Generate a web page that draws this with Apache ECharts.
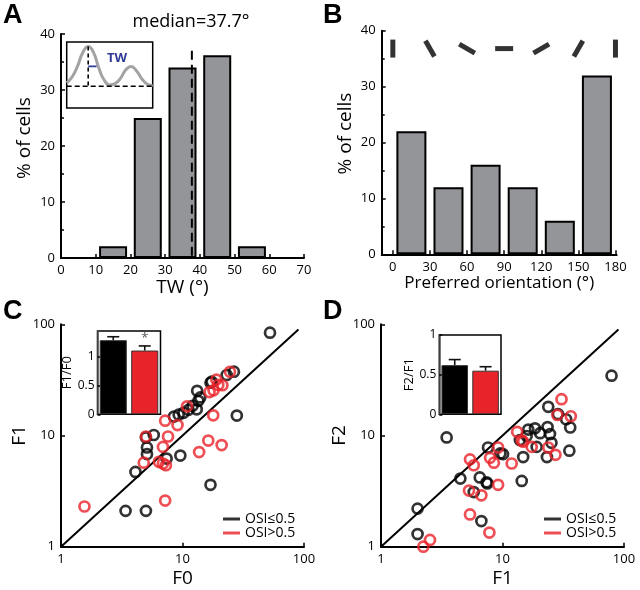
<!DOCTYPE html>
<html><head><meta charset="utf-8">
<script src="https://cdn.jsdelivr.net/npm/echarts@6/dist/echarts.min.js"></script>
<style>html,body{margin:0;padding:0;background:#fff}#c{width:640px;height:590px}</style>
</head><body><div id="c"></div>
<script>
// ---------- Panel A : tuning width histogram ----------
const twBins = [15, 25, 35, 45, 55];
const twPct = [2.1, 25, 34, 36.2, 2.1];
const twMedian = 37.7;
const twMedianLine = [37, 0];
// inset schematic tuning curve
const tuneDir = [0, 22.5, 45, 67.5, 90, 112.5, 135, 157.5, 180, 202.5, 225, 247.5, 270, 292.5, 315, 337.5, 360];
const tuneResp = [0.38, 0.47, 0.63, 0.84, 0.93, 0.84, 0.60, 0.42, 0.35, 0.37, 0.45, 0.58, 0.63, 0.56, 0.44, 0.36, 0.34];
const tuneBaseline = 0.33;
const tunePeakDir = 90;
const tunePeak = 0.93;
const tuneHalfDirs = [90, 125];
const tuneHalf = 0.63;

// ---------- Panel B : preferred orientation ----------
const oriBins = [15, 45, 75, 105, 135, 165];
const oriPct = [22, 12, 16, 12, 6, 32];
const oriTicks = [0, 30, 60, 90, 120, 150, 180];
const oriGlyphY = 36.8;

// ---------- Panel C : F1 vs F0 ----------
const cBlack = [[52.5,84],[28,15.1],[17,3.6],[3.4,2.1],[5.0,2.1],[4.1,4.7],[5.1,7.8],[5.1,6.8],[5.8,10.1],[5.0,9.6],[7.4,6.2],[9.6,6.6],[8.5,14.8],[9.3,15.4],[10.2,16.0],[13.1,17.2],[13.2,25.2],[13.5,20.5],[17.0,29.8],[23.1,35.0],[26.5,37.5],[11.2,17.0],[14.0,22.0],[12.1,18.5],[17.4,30.5]];
const cRed = [[1.56,2.3],[7.2,2.6],[4.8,5.7],[5.0,9.8],[6.9,7.9],[7.6,9.8],[7.2,13.6],[9.1,12.4],[6.4,5.8],[6.9,5.6],[7.3,5.4],[10.9,18.3],[17.9,15.2],[16.3,9.0],[21.0,8.2],[13.7,7.1],[16.7,24.6],[19.0,31.8],[19.7,28.5],[21.3,28.3],[24.6,37.4],[18.0,25.5]];
const cInsetCats = ['OSI≤0.5', 'OSI>0.5'];
const cInsetMean = [1.29, 1.11];
const cInsetErr = [0.06, 0.08];
const cInsetSig = [0, 1];
const cInsetTicks = [0, 0.5, 1];

// ---------- Panel D : F2 vs F1 ----------
const dBlack = [[79,34.5],[3.47,9.6],[2.0,2.2],[2.0,1.3],[4.5,4.1],[5.8,3.1],[6.5,4.2],[7.5,3.7],[6.7,1.7],[7.6,7.8],[9.6,6.9],[10.1,6.8],[14.4,3.9],[14.8,6.4],[13.9,9.1],[15.8,9.9],[16.3,11.3],[18.5,11.6],[20.4,10.5],[19.1,7.9],[23.5,11.9],[24.6,10.3],[25.3,8.6],[23.8,18.1],[23.2,6.4],[28.6,15.6],[33.4,14.0],[36.1,11.8],[35.5,7.3],[7.4,3.8]];
const dRed = [[2.23,1.0],[2.53,1.15],[5.4,1.95],[7.8,1.34],[5.3,3.2],[6.7,2.9],[9.2,3.6],[5.4,6.1],[5.8,5.4],[7.9,6.3],[8.5,5.7],[9.2,7.8],[11.9,5.6],[13.2,10.8],[14.4,9.0],[14.8,8.8],[17.4,7.9],[23.8,7.8],[27.3,6.7],[30.6,21.2],[28.3,15.3],[36.5,14.9]];
const dInsetCats = ['OSI≤0.5', 'OSI>0.5'];
const dInsetMean = [0.62, 0.55];
const dInsetErr = [0.07, 0.05];
const dInsetSig = [0, 0];
const dInsetTicks = [0, 0.5, 1];

const legendNames = ['OSI≤0.5', 'OSI>0.5'];
const diagLine = [[1, 1], [90, 90]];

// ---------- styling ----------
const FONT = 'Open Sans';
const RED = '#e8232a';
const GRAY = '#939598';
const BLACK = '#000';

function axis(extra) {
  const base = {
    axisLine: {show: true, onZero: false, lineStyle: {color: BLACK, width: 2}},
    axisTick: {show: true, inside: true, length: 4, lineStyle: {color: BLACK, width: 1.5}},
    axisLabel: {color: BLACK, fontSize: 13, fontFamily: FONT, margin: 6},
    splitLine: {show: false},
    nameLocation: 'middle',
    nameTextStyle: {color: BLACK, fontSize: 19, fontFamily: FONT}
  };
  const out = Object.assign({}, base, extra);
  ['axisLine', 'axisTick', 'axisLabel', 'nameTextStyle'].forEach(k => {
    if (extra[k]) out[k] = Object.assign({}, base[k], extra[k]);
  });
  return out;
}
const minor = {show: true, splitNumber: 2, length: 3, lineStyle: {color: BLACK, width: 1.5}};

function scatterSeries(name, xi, yi, data, color) {
  return {
    name, type: 'scatter', xAxisIndex: xi, yAxisIndex: yi, data,
    symbol: 'circle', symbolSize: 10,
    itemStyle: {color: 'rgba(0,0,0,0)', borderColor: color, borderWidth: 2.7},
    z: 3
  };
}
function errSeries(xi, yi, means, errs, sig) {
  return {
    type: 'custom', xAxisIndex: xi, yAxisIndex: yi, z: 5,
    data: means.map((m, i) => [i, m, errs[i], sig[i]]),
    encode: {x: 0, y: 1},
    renderItem(params, api) {
      const i = api.value(0), m = api.value(1), e = api.value(2), s = api.value(3);
      const p0 = api.coord([i, m]), p1 = api.coord([i, m + e]);
      const st = {stroke: '#111', lineWidth: 1.6};
      const ch = [
        {type: 'line', shape: {x1: p0[0], y1: p0[1], x2: p1[0], y2: p1[1]}, style: st},
        {type: 'line', shape: {x1: p1[0] - 6, y1: p1[1], x2: p1[0] + 6, y2: p1[1]}, style: st}
      ];
      if (s) ch.push({type: 'text', style: {text: '*', x: p1[0], y: p1[1] - 1, align: 'center', verticalAlign: 'bottom', fontSize: 13, fontFamily: FONT, fill: '#555'}});
      return {type: 'group', children: ch};
    }
  };
}
function insetBar(xi, yi, means) {
  return {
    type: 'bar', xAxisIndex: xi, yAxisIndex: yi, barWidth: '86%', z: 4,
    data: means.map((m, i) => ({value: m, itemStyle: {color: i === 0 ? BLACK : RED}})),
    itemStyle: {borderColor: '#333', borderWidth: 1}
  };
}

const option = {
  animation: false,
  backgroundColor: '#fff',
  textStyle: {fontFamily: FONT},
  grid: [
    {left: 61, top: 34, width: 243, height: 224},                 // 0 A
    {left: 381.7, top: 30.7, width: 235, height: 223.6},          // 1 B
    {left: 66.7, top: 42, width: 86, height: 66, show: true, borderColor: BLACK, borderWidth: 1.5, backgroundColor: '#fff', z: 1}, // 2 A inset
    {left: 61, top: 324.3, width: 243, height: 222.4},            // 3 C
    {left: 97.5, top: 331, width: 63, height: 83.3, show: true, borderColor: BLACK, borderWidth: 1.5, backgroundColor: '#fff'}, // 4 C inset
    {left: 381, top: 324.3, width: 243, height: 222.4},           // 5 D
    {left: 439.3, top: 335, width: 61.7, height: 79.3, show: true, borderColor: BLACK, borderWidth: 1.5, backgroundColor: '#fff'}  // 6 D inset
  ],
  xAxis: [
    axis({gridIndex: 0, type: 'value', min: 0, max: 70, interval: 10, name: 'TW (°)', nameGap: 11}),
    axis({gridIndex: 1, type: 'value', min: -9, max: 181, name: 'Preferred orientation (°)', nameGap: 9,
      nameTextStyle: {fontSize: 17},
      axisLabel: {customValues: oriTicks}, axisTick: {customValues: oriTicks}}),
    {gridIndex: 2, type: 'value', min: 0, max: 360, show: false},
    axis({gridIndex: 3, type: 'log', logBase: 10, min: 1, max: 100, name: 'F0', nameGap: 22}),
    {gridIndex: 4, type: 'category', data: cInsetCats, show: false},
    axis({gridIndex: 5, type: 'log', logBase: 10, min: 1, max: 100, name: 'F1', nameGap: 22}),
    {gridIndex: 6, type: 'category', data: dInsetCats, show: false}
  ],
  yAxis: [
    axis({gridIndex: 0, type: 'value', min: 0, max: 40, interval: 10, minorTick: minor, name: '% of cells', nameGap: 27,
      nameTextStyle: {padding: [0, 0, 0, 16]}}),
    axis({gridIndex: 1, type: 'value', min: 0, max: 40, interval: 10, minorTick: minor, name: '% of cells', nameGap: 27,
      nameTextStyle: {padding: [0, 0, 0, 18]}}),
    {gridIndex: 2, type: 'value', min: 0, max: 1, show: false},
    axis({gridIndex: 3, type: 'log', logBase: 10, min: 1, max: 100, name: 'F1', nameGap: 26}),
    axis({gridIndex: 4, type: 'value', min: 0, max: 1.45, name: 'F1/F0', nameGap: 13,
      axisLine: {lineStyle: {width: 1.5}},
      axisLabel: {customValues: cInsetTicks, margin: 3, fontSize: 12}, axisTick: {customValues: cInsetTicks, length: 3},
      nameTextStyle: {fontSize: 13}}),
    axis({gridIndex: 5, type: 'log', logBase: 10, min: 1, max: 100, name: 'F2', nameGap: 26}),
    axis({gridIndex: 6, type: 'value', min: 0, max: 1, interval: 0.5, name: 'F2/F1', nameGap: 13,
      axisLine: {lineStyle: {width: 1.5}},
      axisLabel: {margin: 3, fontSize: 12}, axisTick: {length: 3},
      nameTextStyle: {fontSize: 13}})
  ],
  legend: [
    {left: 218, top: 507, orient: 'vertical', itemWidth: 17, itemHeight: 3, itemGap: 0, icon: 'rect', selectedMode: false,
      textStyle: {fontSize: 14, fontFamily: FONT, color: BLACK},
      data: [{name: legendNames[0], itemStyle: {color: BLACK, borderWidth: 0}}, {name: legendNames[1], itemStyle: {color: RED, borderWidth: 0}}]},
    {left: 539, top: 507, orient: 'vertical', itemWidth: 17, itemHeight: 3, itemGap: 0, icon: 'rect', selectedMode: false,
      textStyle: {fontSize: 14, fontFamily: FONT, color: BLACK},
      data: [{name: legendNames[0], itemStyle: {color: BLACK, borderWidth: 0}}, {name: legendNames[1], itemStyle: {color: RED, borderWidth: 0}}]}
  ],
  series: [
    // A
    {type: 'bar', xAxisIndex: 0, yAxisIndex: 0, barWidth: 28, data: twBins.map((b, i) => [b, twPct[i]]),
      itemStyle: {color: GRAY, borderColor: BLACK, borderWidth: 2}},
    {type: 'line', xAxisIndex: 0, yAxisIndex: 0, symbol: 'none', z: 4,
      data: twMedianLine.map(v => [twMedian, v]), lineStyle: {color: BLACK, width: 2, type: [9, 5]}},
    // A inset
    {type: 'line', xAxisIndex: 2, yAxisIndex: 2, symbol: 'none', z: 3,
      data: [[tuneDir[0], tuneBaseline], [tuneDir[tuneDir.length - 1], tuneBaseline]], lineStyle: {color: BLACK, width: 1.6, type: [5, 3]}},
    {type: 'line', xAxisIndex: 2, yAxisIndex: 2, symbol: 'none', z: 3,
      data: [[tunePeakDir, tunePeak], [tunePeakDir, tuneBaseline]], lineStyle: {color: BLACK, width: 1.6, type: [4, 3]}},
    {type: 'line', xAxisIndex: 2, yAxisIndex: 2, symbol: 'none', smooth: true, z: 2,
      data: tuneDir.map((d, i) => [d, tuneResp[i]]), lineStyle: {color: '#a3a3a3', width: 3}},
    {type: 'line', xAxisIndex: 2, yAxisIndex: 2, symbol: 'none', z: 4,
      data: tuneHalfDirs.map(d => [d, tuneHalf]), lineStyle: {color: '#2e3a96', width: 1.6}},
    // B
    {type: 'bar', xAxisIndex: 1, yAxisIndex: 1, barWidth: 30, data: oriBins.map((b, i) => [b, oriPct[i]]),
      itemStyle: {color: GRAY, borderColor: BLACK, borderWidth: 2}},
    {type: 'scatter', xAxisIndex: 1, yAxisIndex: 1, symbol: 'rect', symbolSize: [5, 18],
      data: oriTicks.map(o => ({value: [o, oriGlyphY], symbolRotate: o})), itemStyle: {color: BLACK}},
    // C
    {type: 'line', xAxisIndex: 3, yAxisIndex: 3, symbol: 'none', data: diagLine, lineStyle: {color: BLACK, width: 2}, z: 2},
    scatterSeries(legendNames[0], 3, 3, cBlack, BLACK),
    scatterSeries(legendNames[1], 3, 3, cRed, RED),
    insetBar(4, 4, cInsetMean),
    errSeries(4, 4, cInsetMean, cInsetErr, cInsetSig),
    // D
    {type: 'line', xAxisIndex: 5, yAxisIndex: 5, symbol: 'none', data: diagLine, lineStyle: {color: BLACK, width: 2}, z: 2},
    scatterSeries(legendNames[0], 5, 5, dBlack, BLACK),
    scatterSeries(legendNames[1], 5, 5, dRed, RED),
    insetBar(6, 6, dInsetMean),
    errSeries(6, 6, dInsetMean, dInsetErr, dInsetSig)
  ],
  graphic: [
    {type: 'text', left: 3, top: 2, style: {text: 'A', font: 'bold 27px "Liberation Sans"', fill: BLACK}},
    {type: 'text', left: 323, top: 2, style: {text: 'B', font: 'bold 27px "Liberation Sans"', fill: BLACK}},
    {type: 'text', left: 3, top: 298, style: {text: 'C', font: 'bold 27px "Liberation Sans"', fill: BLACK}},
    {type: 'text', left: 323, top: 298, style: {text: 'D', font: 'bold 27px "Liberation Sans"', fill: BLACK}},
    {type: 'text', x: 191, y: 22, style: {text: 'median=37.7°', font: '18px "Open Sans"', fill: BLACK, align: 'center', verticalAlign: 'middle'}},
    {type: 'text', x: 117, y: 58, z: 10, style: {text: 'TW', font: 'bold 13px "Open Sans"', fill: '#2e3a96', align: 'center', verticalAlign: 'middle'}}
  ]
};
const chart = echarts.init(document.getElementById('c'));
chart.setOption(option);
</script>
</body></html>
